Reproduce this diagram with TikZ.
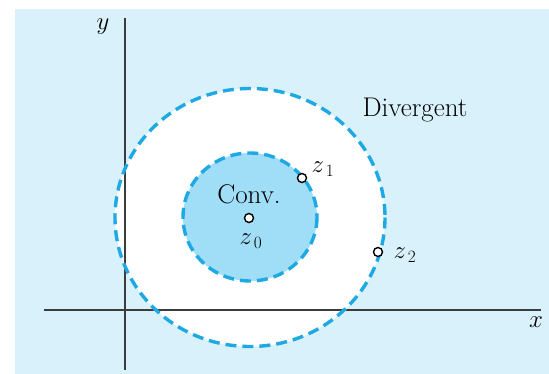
\documentclass[tikz,border=0pt]{standalone}
\usepackage{tikz}
\definecolor{bgblue}{RGB}{217,241,251}
\definecolor{convblue}{RGB}{160,221,246}
\definecolor{dashblue}{RGB}{30,168,228}
\definecolor{axisgray}{RGB}{60,60,60}
\tikzset{
  axisline/.style={draw=axisgray, line width=1.8pt},
  dashcirc/.style={draw=dashblue, line width=3.4pt, dash pattern=on 11pt off 6pt},
  ptmark/.style={circle, draw=black, fill=white, line width=1.4pt, minimum size=9pt, inner sep=0pt},
  lbl/.style={font=\fontsize{27}{32}\selectfont, inner sep=0pt},
}
\begin{document}
\begin{tikzpicture}[x=1pt,y=-1pt]
\useasboundingbox (0,0) rectangle (549,374);
\fill[bgblue] (15,9) rectangle (549,374);
% big region (white interior)
\fill[white] (250,217.5) ellipse [x radius=135, y radius=129];
% convergence disk
\fill[convblue] (250,217) ellipse [x radius=67, y radius=64];
% axes
\coordinate (xs) at (44,310);
\coordinate (xe) at (541,310);
\coordinate (ys) at (125,18);
\coordinate (ye) at (125,370);
\draw[axisline] (xs) -- (xe);
\draw[axisline] (ys) -- (ye);
% dashed circles
\draw[dashcirc] (250,217.5) ellipse [x radius=135, y radius=129];
\draw[dashcirc] (250,217) ellipse [x radius=67, y radius=64];
% points
\node[ptmark] (z0) at (249,218) {};
\node[ptmark] (z1) at (302,178) {};
\node[ptmark] (z2) at (378,252) {};
% labels
\node[lbl] (conv) at (249,194) {Conv.};
\node[lbl] (div) at (415,110) {Divergent};
\node[lbl] (lz0) at (251,241) {$z_{\,0}$};
\node[lbl] (lz1) at (323,169) {$z_{\,1}$};
\node[lbl] (lz2) at (405,255) {$z_{\,2}$};
\node[lbl] (lx) at (536,322) {$x$};
\node[lbl] (ly) at (103,27) {$y$};
\end{tikzpicture}
\end{document}
